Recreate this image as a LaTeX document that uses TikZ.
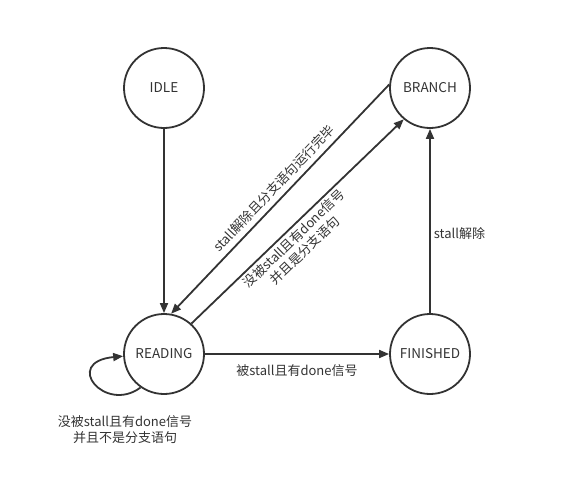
\documentclass[tikz,border=0pt]{standalone}
\usepackage{fontspec}
\setmainfont{Noto Sans CJK SC}
\usetikzlibrary{arrows.meta}
\definecolor{ink}{HTML}{333333}
\tikzset{
  state/.style={circle, draw=ink, line width=1.8pt, minimum size=80pt, inner sep=0pt, text=ink, font=\fontsize{13.5}{16}\selectfont},
  arr/.style={draw=ink, line width=1.8pt, -{Triangle[length=10pt,width=8pt]}},
  lbl/.style={text=ink, font=\fontsize{13}{16}\selectfont, align=center, inner sep=2pt},
}
\begin{document}
\begin{tikzpicture}[x=1pt,y=-1pt]
\useasboundingbox (0,0) rectangle (573,483);
\node[state] (idle) at (164,88) {IDLE};
\node[state] (branch) at (430,88) {BRANCH};
\node[state] (reading) at (164,354) {READING};
\node[state] (finished) at (430,354) {FINISHED};

\draw[arr] (idle) -- (reading);
\draw[arr] (branch.175) -- (reading.80)
  node[lbl, pos=0.49, sloped, above=3pt] {stall解除且分支语句运行完毕};
\draw[arr] (reading.48) -- (branch.230)
  node[lbl, pos=0.45, sloped, below=1pt] {没被stall且有done信号\\并且是分支语句};
\draw[arr] (reading) -- (finished)
  node[lbl, midway, below=8pt] {被stall且有done信号};
\draw[arr] (finished) -- (branch)
  node[lbl, pos=0.43, right=1pt] {stall解除};
\draw[arr] (reading.235) .. controls (105,414) and (62,362) .. (reading.183);
\node[lbl] (looplbl) at (125,430) {没被stall且有done信号\\并且不是分支语句};
\end{tikzpicture}
\end{document}
